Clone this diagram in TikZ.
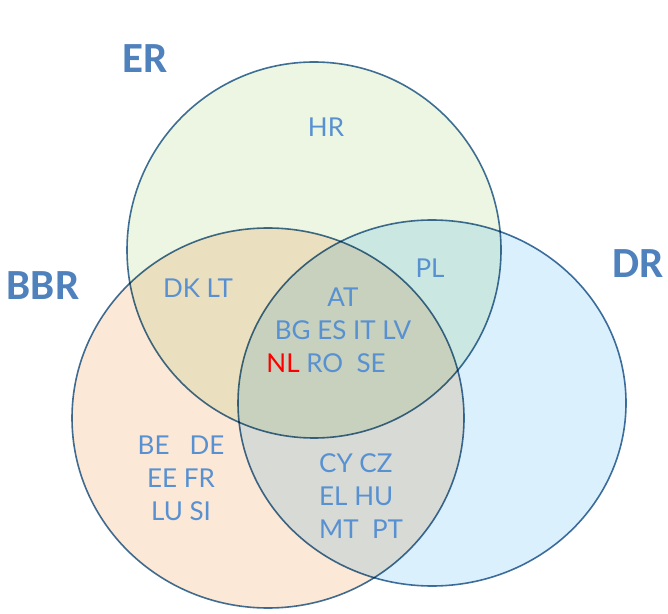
\documentclass[tikz,border=0pt]{standalone}
\usepackage{fontspec}
\setmainfont{Lato}
\newfontfamily\titlefont{Carlito}
\usetikzlibrary{positioning}
\definecolor{erfill}{RGB}{237,246,227}
\definecolor{bbrfill}{RGB}{252,232,215}
\definecolor{drfill}{RGB}{219,240,253}
\definecolor{rim}{RGB}{65,113,156}
\definecolor{settext}{RGB}{79,129,189}
\definecolor{landtext}{RGB}{88,145,210}
\tikzstyle{ring} = [draw=rim, line width=1.6pt]
\tikzstyle{setname} = [text=settext, inner sep=0pt, font=\titlefont\bfseries\fontsize{43}{43}\selectfont]
\tikzstyle{land} = [text=landtext, inner sep=0pt, font=\fontsize{26}{33}\selectfont]

\begin{document}
\begin{tikzpicture}[x=1pt, y=1pt, node distance=33pt]
\useasboundingbox (0,0) rectangle (668,613);
% the three sets
\begin{scope}[blend group=multiply]
\draw [ring, fill=erfill] (314,363) ellipse [x radius=187pt, y radius=188pt];
\draw [ring, fill=bbrfill] (268,195) ellipse [x radius=196pt, y radius=190pt];
\draw [ring, fill=drfill] (432,210) ellipse [x radius=194pt, y radius=183pt];
\end{scope}
\node (er) [setname] at (145,554) {ER};
\node (bbr) [setname] at (43,327) {BBR};
\node (dr) [setname] at (638,349) {DR};
% member states
\node (hr) [land] at (326,486) {HR};
\node (pl) [land] at (430,345) {PL};
\node (dklt) [land] at (198,325) {DK LT};
\node (at) [land] at (343,316) {AT};
\node (bglv) [land, below of = at] {BG ES IT LV};
\node (nlse) [land, below of = bglv, xshift = -17pt] {\textcolor{red}{NL} RO\ \ SE};
\node (bbronly) [land, align=center] at (181,135) {BE\ \ \ DE\\EE FR\\LU SI};
\node (bbrdr) [land, align=left, anchor=west] at (319,117) {CY CZ\\EL HU\\MT\ \ PT};
\end{tikzpicture}
\end{document}
